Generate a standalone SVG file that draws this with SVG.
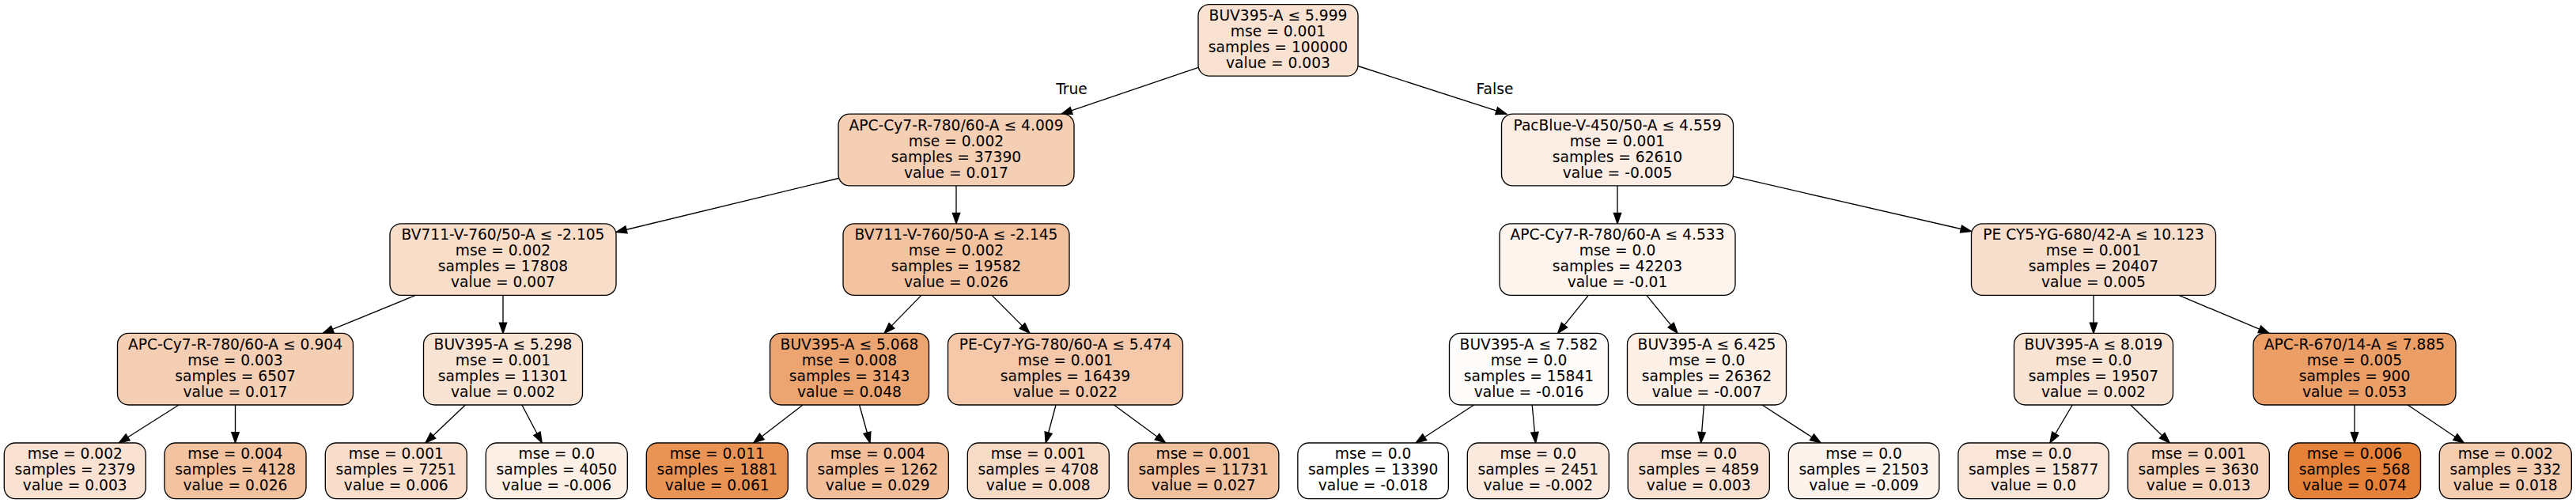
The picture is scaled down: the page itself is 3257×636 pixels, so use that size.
<svg xmlns="http://www.w3.org/2000/svg" width="3257" height="636" viewBox="0 0 3257 636">
<style>
.n rect{stroke:#000;stroke-width:1.33}
.n text,.lbl{font-family:"DejaVu Sans","Liberation Sans",sans-serif;font-size:18.67px;text-anchor:middle;fill:#000}
#edges line{stroke:#000;stroke-width:1.33;fill:none;marker-end:url(#ah)}
</style>
<defs>
<marker id="ah" markerUnits="userSpaceOnUse" markerWidth="16" markerHeight="12" refX="13.33" refY="4.67" orient="auto" overflow="visible">
<path d="M0,0 L13.33,4.67 L0,9.33 Z" fill="#000" stroke="#000" stroke-width="1.33"/>
</marker>
</defs>
<rect x="0" y="0" width="3257" height="636" fill="#fff"/>
<g id="edges">
<line x1="1515" y1="85.3" x2="1342" y2="144.2"/>
<line x1="1717" y1="83.5" x2="1904.8" y2="144.2"/>
<line x1="1060" y1="225.5" x2="779" y2="293.5"/>
<line x1="1209" y1="234.8" x2="1209" y2="282.8"/>
<line x1="525.4" y1="373.4" x2="408.1" y2="421.4"/>
<line x1="636" y1="373.4" x2="636" y2="421.4"/>
<line x1="226.1" y1="512" x2="150.4" y2="560"/>
<line x1="297.5" y1="512" x2="297.5" y2="560"/>
<line x1="588.4" y1="512" x2="537.9" y2="560"/>
<line x1="659.9" y1="512" x2="685.2" y2="560"/>
<line x1="1164.9" y1="373.4" x2="1118.1" y2="421.4"/>
<line x1="1254.1" y1="373.4" x2="1301.9" y2="421.4"/>
<line x1="1015.1" y1="512" x2="952.7" y2="560"/>
<line x1="1086.6" y1="512" x2="1100" y2="560"/>
<line x1="1335" y1="512" x2="1322.2" y2="560"/>
<line x1="1408.5" y1="512" x2="1473.7" y2="560"/>
<line x1="2045" y1="234.8" x2="2045" y2="282.8"/>
<line x1="2191.5" y1="223.2" x2="2492.5" y2="292.5"/>
<line x1="2008.4" y1="373.4" x2="1969.6" y2="421.4"/>
<line x1="2081.9" y1="373.4" x2="2121.1" y2="421.4"/>
<line x1="1863.6" y1="512" x2="1790.1" y2="560"/>
<line x1="1937.2" y1="512" x2="1941.6" y2="560"/>
<line x1="2154.4" y1="512" x2="2150.6" y2="560"/>
<line x1="2228" y1="512" x2="2302.1" y2="560"/>
<line x1="2647" y1="373.4" x2="2647" y2="421.4"/>
<line x1="2754.9" y1="373.4" x2="2869.1" y2="421.4"/>
<line x1="2620.3" y1="512" x2="2591.9" y2="560"/>
<line x1="2693.8" y1="512" x2="2743.3" y2="560"/>
<line x1="2977" y1="512" x2="2977" y2="560"/>
<line x1="3044.2" y1="512" x2="3115.4" y2="560"/>
<text class="lbl" x="1355" y="119">True</text>
<text class="lbl" x="1890" y="119">False</text>
</g>

<g id="n0" class="n"><rect x="1515" y="5.6" width="202" height="90.6" rx="14" fill="#f9e2d2"/>
<text x="1616" y="25.9">BUV395-A ≤ 5.999</text><text x="1616" y="45.9">mse = 0.001</text><text x="1616" y="65.9">samples = 100000</text><text x="1616" y="85.9">value = 0.003</text></g>

<g id="n1" class="n"><rect x="1060" y="144.2" width="298" height="90.6" rx="14" fill="#f5cfb4"/>
<text x="1209" y="164.5">APC-Cy7-R-780/60-A ≤ 4.009</text><text x="1209" y="184.5">mse = 0.002</text><text x="1209" y="204.5">samples = 37390</text><text x="1209" y="224.5">value = 0.017</text></g>

<g id="n16" class="n"><rect x="1898.5" y="144.2" width="293" height="90.6" rx="14" fill="#fbede3"/>
<text x="2045" y="164.5">PacBlue-V-450/50-A ≤ 4.559</text><text x="2045" y="184.5">mse = 0.001</text><text x="2045" y="204.5">samples = 62610</text><text x="2045" y="224.5">value = -0.005</text></g>

<g id="n2" class="n"><rect x="493" y="282.8" width="286" height="90.6" rx="14" fill="#f8ddc9"/>
<text x="636" y="303.1">BV711-V-760/50-A ≤ -2.105</text><text x="636" y="323.1">mse = 0.002</text><text x="636" y="343.1">samples = 17808</text><text x="636" y="363.1">value = 0.007</text></g>

<g id="n9" class="n"><rect x="1066" y="282.8" width="286" height="90.6" rx="14" fill="#f3c3a0"/>
<text x="1209" y="303.1">BV711-V-760/50-A ≤ -2.145</text><text x="1209" y="323.1">mse = 0.002</text><text x="1209" y="343.1">samples = 19582</text><text x="1209" y="363.1">value = 0.026</text></g>

<g id="n17" class="n"><rect x="1896" y="282.8" width="298" height="90.6" rx="14" fill="#fdf4ee"/>
<text x="2045" y="303.1">APC-Cy7-R-780/60-A ≤ 4.533</text><text x="2045" y="323.1">mse = 0.0</text><text x="2045" y="343.1">samples = 42203</text><text x="2045" y="363.1">value = -0.01</text></g>

<g id="n24" class="n"><rect x="2492.5" y="282.8" width="309" height="90.6" rx="14" fill="#f8dfcd"/>
<text x="2647" y="303.1">PE CY5-YG-680/42-A ≤ 10.123</text><text x="2647" y="323.1">mse = 0.001</text><text x="2647" y="343.1">samples = 20407</text><text x="2647" y="363.1">value = 0.005</text></g>

<g id="n3" class="n"><rect x="148.5" y="421.4" width="298" height="90.6" rx="14" fill="#f5cfb4"/>
<text x="297.5" y="441.7">APC-Cy7-R-780/60-A ≤ 0.904</text><text x="297.5" y="461.7">mse = 0.003</text><text x="297.5" y="481.7">samples = 6507</text><text x="297.5" y="501.7">value = 0.017</text></g>

<g id="n6" class="n"><rect x="535.5" y="421.4" width="201" height="90.6" rx="14" fill="#f9e4d4"/>
<text x="636" y="441.7">BUV395-A ≤ 5.298</text><text x="636" y="461.7">mse = 0.001</text><text x="636" y="481.7">samples = 11301</text><text x="636" y="501.7">value = 0.002</text></g>

<g id="n10" class="n"><rect x="973.5" y="421.4" width="201" height="90.6" rx="14" fill="#eca571"/>
<text x="1074" y="441.7">BUV395-A ≤ 5.068</text><text x="1074" y="461.7">mse = 0.008</text><text x="1074" y="481.7">samples = 3143</text><text x="1074" y="501.7">value = 0.048</text></g>

<g id="n13" class="n"><rect x="1198.5" y="421.4" width="297" height="90.6" rx="14" fill="#f4c8a9"/>
<text x="1347" y="441.7">PE-Cy7-YG-780/60-A ≤ 5.474</text><text x="1347" y="461.7">mse = 0.001</text><text x="1347" y="481.7">samples = 16439</text><text x="1347" y="501.7">value = 0.022</text></g>

<g id="n18" class="n"><rect x="1832.5" y="421.4" width="201" height="90.6" rx="14" fill="#fefcfb"/>
<text x="1933" y="441.7">BUV395-A ≤ 7.582</text><text x="1933" y="461.7">mse = 0.0</text><text x="1933" y="481.7">samples = 15841</text><text x="1933" y="501.7">value = -0.016</text></g>

<g id="n21" class="n"><rect x="2057.5" y="421.4" width="201" height="90.6" rx="14" fill="#fcf0e7"/>
<text x="2158" y="441.7">BUV395-A ≤ 6.425</text><text x="2158" y="461.7">mse = 0.0</text><text x="2158" y="481.7">samples = 26362</text><text x="2158" y="501.7">value = -0.007</text></g>

<g id="n25" class="n"><rect x="2546.5" y="421.4" width="201" height="90.6" rx="14" fill="#f9e4d4"/>
<text x="2647" y="441.7">BUV395-A ≤ 8.019</text><text x="2647" y="461.7">mse = 0.0</text><text x="2647" y="481.7">samples = 19507</text><text x="2647" y="501.7">value = 0.002</text></g>

<g id="n28" class="n"><rect x="2849" y="421.4" width="256" height="90.6" rx="14" fill="#eb9e66"/>
<text x="2977" y="441.7">APC-R-670/14-A ≤ 7.885</text><text x="2977" y="461.7">mse = 0.005</text><text x="2977" y="481.7">samples = 900</text><text x="2977" y="501.7">value = 0.053</text></g>

<g id="n4" class="n"><rect x="5.3" y="560" width="179" height="70.6" rx="14" fill="#f9e2d2"/>
<text x="94.8" y="580.3">mse = 0.002</text><text x="94.8" y="600.3">samples = 2379</text><text x="94.8" y="620.3">value = 0.003</text></g>

<g id="n5" class="n"><rect x="208" y="560" width="179" height="70.6" rx="14" fill="#f3c3a0"/>
<text x="297.5" y="580.3">mse = 0.004</text><text x="297.5" y="600.3">samples = 4128</text><text x="297.5" y="620.3">value = 0.026</text></g>

<g id="n7" class="n"><rect x="411.3" y="560" width="179" height="70.6" rx="14" fill="#f8decb"/>
<text x="500.8" y="580.3">mse = 0.001</text><text x="500.8" y="600.3">samples = 7251</text><text x="500.8" y="620.3">value = 0.006</text></g>

<g id="n8" class="n"><rect x="614.3" y="560" width="179" height="70.6" rx="14" fill="#fcefe5"/>
<text x="703.8" y="580.3">mse = 0.0</text><text x="703.8" y="600.3">samples = 4050</text><text x="703.8" y="620.3">value = -0.006</text></g>

<g id="n11" class="n"><rect x="817.3" y="560" width="179" height="70.6" rx="14" fill="#e99355"/>
<text x="906.8" y="580.3">mse = 0.011</text><text x="906.8" y="600.3">samples = 1881</text><text x="906.8" y="620.3">value = 0.061</text></g>

<g id="n12" class="n"><rect x="1020.3" y="560" width="179" height="70.6" rx="14" fill="#f2bf9a"/>
<text x="1109.8" y="580.3">mse = 0.004</text><text x="1109.8" y="600.3">samples = 1262</text><text x="1109.8" y="620.3">value = 0.029</text></g>

<g id="n14" class="n"><rect x="1223.3" y="560" width="179" height="70.6" rx="14" fill="#f8dbc7"/>
<text x="1312.8" y="580.3">mse = 0.001</text><text x="1312.8" y="600.3">samples = 4708</text><text x="1312.8" y="620.3">value = 0.008</text></g>

<g id="n15" class="n"><rect x="1426.35" y="560" width="190.5" height="70.6" rx="14" fill="#f2c19e"/>
<text x="1521.6" y="580.3">mse = 0.001</text><text x="1521.6" y="600.3">samples = 11731</text><text x="1521.6" y="620.3">value = 0.027</text></g>

<g id="n19" class="n"><rect x="1640.85" y="560" width="190.5" height="70.6" rx="14" fill="#ffffff"/>
<text x="1736.1" y="580.3">mse = 0.0</text><text x="1736.1" y="600.3">samples = 13390</text><text x="1736.1" y="620.3">value = -0.018</text></g>

<g id="n20" class="n"><rect x="1855.3" y="560" width="179" height="70.6" rx="14" fill="#fbe9dd"/>
<text x="1944.8" y="580.3">mse = 0.0</text><text x="1944.8" y="600.3">samples = 2451</text><text x="1944.8" y="620.3">value = -0.002</text></g>

<g id="n22" class="n"><rect x="2058.3" y="560" width="179" height="70.6" rx="14" fill="#f9e2d2"/>
<text x="2147.8" y="580.3">mse = 0.0</text><text x="2147.8" y="600.3">samples = 4859</text><text x="2147.8" y="620.3">value = 0.003</text></g>

<g id="n23" class="n"><rect x="2261.35" y="560" width="190.5" height="70.6" rx="14" fill="#fcf3ec"/>
<text x="2356.6" y="580.3">mse = 0.0</text><text x="2356.6" y="600.3">samples = 21503</text><text x="2356.6" y="620.3">value = -0.009</text></g>

<g id="n26" class="n"><rect x="2475.85" y="560" width="190.5" height="70.6" rx="14" fill="#fae6d8"/>
<text x="2571.1" y="580.3">mse = 0.0</text><text x="2571.1" y="600.3">samples = 15877</text><text x="2571.1" y="620.3">value = 0.0</text></g>

<g id="n27" class="n"><rect x="2690.3" y="560" width="179" height="70.6" rx="14" fill="#f6d5bc"/>
<text x="2779.8" y="580.3">mse = 0.001</text><text x="2779.8" y="600.3">samples = 3630</text><text x="2779.8" y="620.3">value = 0.013</text></g>

<g id="n29" class="n"><rect x="2893.5" y="560" width="167" height="70.6" rx="14" fill="#e58139"/>
<text x="2977" y="580.3">mse = 0.006</text><text x="2977" y="600.3">samples = 568</text><text x="2977" y="620.3">value = 0.074</text></g>

<g id="n30" class="n"><rect x="3084.3" y="560" width="167" height="70.6" rx="14" fill="#f5ceb2"/>
<text x="3167.8" y="580.3">mse = 0.002</text><text x="3167.8" y="600.3">samples = 332</text><text x="3167.8" y="620.3">value = 0.018</text></g>
</svg>
